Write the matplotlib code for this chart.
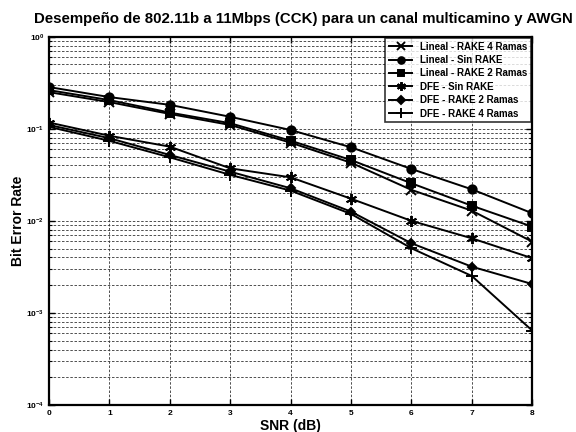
import matplotlib
matplotlib.use("Agg")
import matplotlib.pyplot as plt
from matplotlib.ticker import LogLocator, NullFormatter, FixedLocator

plt.rcParams['font.family'] = ['Liberation Sans', 'DejaVu Sans']

snr = [0, 1, 2, 3, 4, 5, 6, 7, 8]
lin_rake4 = [0.25, 0.195, 0.145, 0.11, 0.0707, 0.0428, 0.0217, 0.0129, 0.00594]
lin_sin = [0.284, 0.221, 0.182, 0.135, 0.097, 0.063, 0.0366, 0.022, 0.0121]
lin_rake2 = [0.263, 0.205, 0.150, 0.115, 0.0743, 0.0458, 0.0256, 0.0146, 0.00865]
dfe_sin = [0.117, 0.084, 0.064, 0.0372, 0.0297, 0.0174, 0.0100, 0.00646, 0.00393]
dfe_rake2 = [0.110, 0.079, 0.052, 0.0342, 0.0226, 0.0126, 0.00571, 0.00318, 0.00206]
dfe_rake4 = [0.105, 0.074, 0.049, 0.0316, 0.0213, 0.0119, 0.00504, 0.00252, 0.000643]

labels = ['Lineal - RAKE 4 Ramas', 'Lineal - Sin RAKE', 'Lineal - RAKE 2 Ramas',
          'DFE - Sin RAKE', 'DFE - RAKE 2 Ramas', 'DFE - RAKE 4 Ramas']
series = [lin_rake4, lin_sin, lin_rake2, dfe_sin, dfe_rake2, dfe_rake4]
markers = ['x', 'o', 's', (6, 2, 0), 'D', '+']
msizes = [7, 6, 5.5, 8, 4.5, 9]

fig = plt.figure(figsize=(5.76, 4.32), dpi=100)
ax = fig.add_axes([0.085, 0.0625, 0.839, 0.8525])

for y, lab, m, ms in zip(series, labels, markers, msizes):
    ax.semilogy(snr, y, color='black', lw=1.4, marker=m, ms=ms,
                mew=1.4, mfc='black', mec='black', label=lab)

ax.set_xlim(0, 8)
ax.set_ylim(1e-4, 1)
ax.xaxis.set_major_locator(FixedLocator(snr))
ax.yaxis.set_major_locator(LogLocator(base=10, numticks=10))
ax.yaxis.set_minor_locator(LogLocator(base=10, subs=range(2, 10), numticks=20))
ax.yaxis.set_minor_formatter(NullFormatter())

ax.grid(True, which='major', axis='x', ls=(0, (3, 2)), color='#333333', lw=0.6)
ax.grid(True, which='both', axis='y', ls=(0, (3, 2)), color='#333333', lw=0.6)

ax.tick_params(which='both', direction='in', top=True, right=True)
ax.tick_params(which='major', length=4, width=1, labelsize=6)
ax.tick_params(which='minor', length=2, width=0.8)
for lab in ax.get_xticklabels() + ax.get_yticklabels():
    lab.set_fontweight('bold')
for s in ax.spines.values():
    s.set_linewidth(1.6)

ax.set_xlabel('SNR (dB)', fontsize=10, fontweight='bold', va='center')
ax.xaxis.set_label_coords(0.5, -0.057)
ax.set_ylabel('Bit Error Rate', fontsize=10, fontweight='bold', va='center')
ax.yaxis.set_label_coords(-0.064, 0.5)

fig.text(0.527, 0.956, 'Desempeño de 802.11b a 11Mbps (CCK) para un canal multicamino y AWGN',
         ha='center', va='center', fontsize=10.8, fontweight='bold')

leg = ax.legend(loc='upper right', frameon=True, fancybox=False,
                edgecolor='black', borderpad=0.4, labelspacing=0.35,
                handlelength=2.4, borderaxespad=0.1, markerscale=0.8,
                prop={'weight': 'bold', 'size': 7})
leg.get_frame().set_linewidth(1.2)

fig.savefig('out.png', dpi=100)
